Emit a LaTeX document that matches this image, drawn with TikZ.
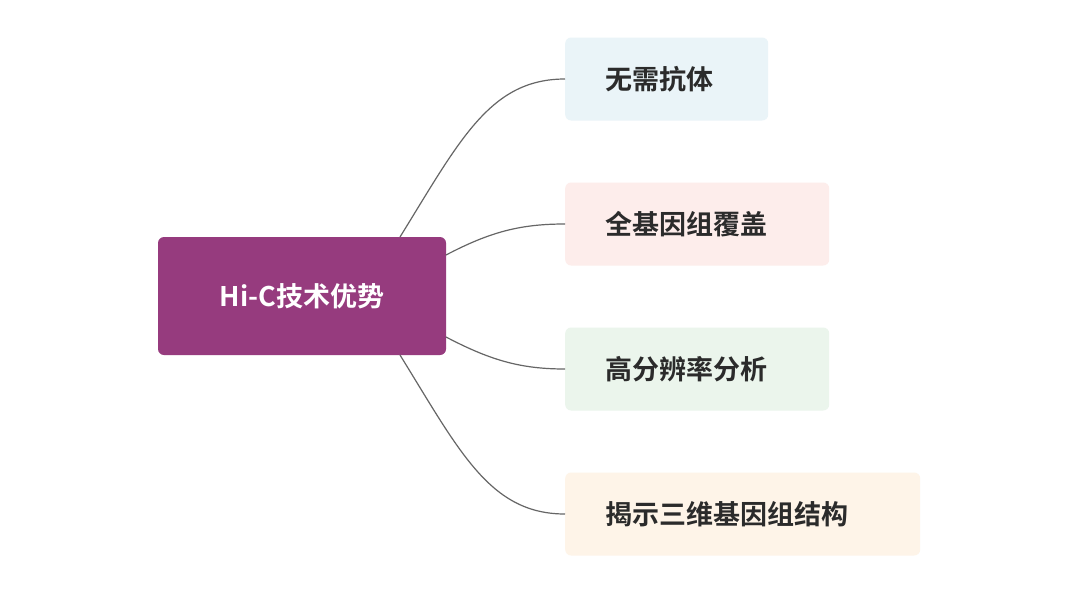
\documentclass[tikz,border=0pt]{standalone}
\usepackage{fontspec}
\newfontfamily\cjk{Noto Sans CJK SC}[BoldFont={Noto Sans CJK SC Bold}]
\definecolor{rootpurple}{HTML}{963B7E}
\definecolor{leafblue}{HTML}{EAF4F8}
\definecolor{leafpink}{HTML}{FDEDEB}
\definecolor{leafgreen}{HTML}{EBF5EC}
\definecolor{leaforange}{HTML}{FEF4E8}
\definecolor{leaftext}{HTML}{2B2B2B}
\tikzset{
  rootbox/.style={fill=rootpurple, rounded corners=6pt, minimum width=288pt,
    minimum height=118pt, text=white, font=\cjk\bfseries\fontsize{27}{30}\selectfont},
  leafbox/.style={rounded corners=6pt, minimum height=83pt, anchor=west,
    text=leaftext, align=left, text width=#1, inner xsep=40pt,
    font=\cjk\bfseries\fontsize{27}{30}\selectfont},
  branch/.style={draw=black!60, line width=1.2pt}
}
\begin{document}
\begin{tikzpicture}[x=1pt, y=-1pt]
  \useasboundingbox[fill=white] (0,0) rectangle (1080,592);
  \node[rootbox] (root) at (302,296) {Hi-C技术优势};
  \node[leafbox=123pt, fill=leafblue] (l1) at (565,79) {无需抗体};
  \node[leafbox=184pt, fill=leafpink] (l2) at (565,224) {全基因组覆盖};
  \node[leafbox=184pt, fill=leafgreen] (l3) at (565,369) {高分辨率分析};
  \node[leafbox=275pt, fill=leaforange] (l4) at (565,514) {揭示三维基因组结构};
  \coordinate (s1) at (400,237);
  \coordinate (s2) at (446,255);
  \coordinate (s3) at (446,337);
  \coordinate (s4) at (400,355);
  \draw[branch] (s1) .. controls (460,140) and (490,79) .. (l1.west);
  \draw[branch] (s2) .. controls (490,232) and (520,224) .. (l2.west);
  \draw[branch] (s3) .. controls (490,360) and (520,369) .. (l3.west);
  \draw[branch] (s4) .. controls (460,452) and (490,514) .. (l4.west);
\end{tikzpicture}
\end{document}
